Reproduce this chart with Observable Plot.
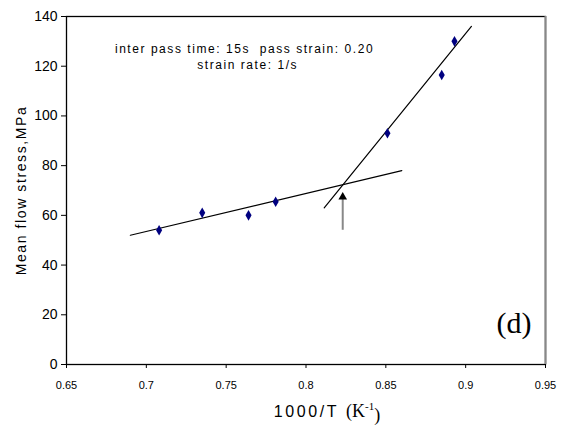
<!DOCTYPE html>
<html>
<head>
<meta charset="utf-8">
<script src="https://cdn.jsdelivr.net/npm/d3@7"></script>
<script src="https://cdn.jsdelivr.net/npm/@observablehq/plot@0.6"></script>
<style>
  html, body { margin: 0; padding: 0; background: #fff; }
</style>
</head>
<body>
<script>
// Data
const invT = [0.708, 0.735, 0.764, 0.781, 0.851, 0.885, 0.893];
const stress = [54, 61, 60, 65.5, 93, 116.5, 130];

// Fitted lines (endpoints)
const fitLowX = [0.69, 0.86];
const fitLowY = [52, 78];
const fitHighX = [0.8114, 0.9036];
const fitHighY = [63, 136];

// Arrow marking the intersection
const arrowX = [0.823];
const arrowFromY = [54];
const arrowToY = [69];

const xTicks = [0.65, 0.7, 0.75, 0.8, 0.85, 0.9, 0.95];
const yTicks = [0, 20, 40, 60, 80, 100, 120, 140];

const annotLines = ["inter pass time: 15s\u00a0\u00a0pass strain: 0.20", "strain rate: 1/s"];
const yTitle = "Mean flow stress,MPa";
const panelLabel = "(d)";

const points = invT.map((x, i) => ({x, y: stress[i]}));
const low = fitLowX.map((x, i) => ({x, y: fitLowY[i]}));
const high = fitHighX.map((x, i) => ({x, y: fitHighY[i]}));
const arrow = arrowX.map((x, i) => ({x, y1: arrowFromY[i], y2: arrowToY[i]}));

const chart = Plot.plot({
  width: 562,
  height: 425,
  marginLeft: 66,
  marginRight: 17,
  marginTop: 16,
  marginBottom: 61,
  style: {fontFamily: "'Liberation Sans', Arial, sans-serif", background: "#fff", color: "#000"},
  x: {domain: [0.65, 0.95], ticks: xTicks, tickFormat: d => String(d), tickSize: 4, tickPadding: 13, label: null},
  y: {domain: [0, 140], ticks: yTicks, tickSize: 5, tickPadding: 4, label: null},
  marks: [
    Plot.frame({stroke: "#000", strokeWidth: 1.3}),
    Plot.ruleX([0.95], {stroke: "#888", strokeWidth: 2}),
    Plot.line(low, {x: "x", y: "y", stroke: "#000", strokeWidth: 1.2}),
    Plot.line(high, {x: "x", y: "y", stroke: "#000", strokeWidth: 1.2}),
    Plot.ruleX(arrow, {x: "x", y1: "y1", y2: d => d.y2 - 2, stroke: "#888", strokeWidth: 2}),
    Plot.dot(arrow, {x: "x", y: d => d.y2 - 1.6, symbol: "triangle", r: 3.2, fill: "#000", stroke: "none"}),
    Plot.dot(points, {x: "x", y: "y", symbol: "diamond", r: 3.2, fill: "#000080", stroke: "none"}),
    Plot.text([annotLines[0]], {x: [0.7615], y: [127], text: d => d, fontSize: 12, textAnchor: "middle", lineAnchor: "middle", fill: "#000"}),
    Plot.text([annotLines[1]], {x: [0.7635], y: [120.3], text: d => d, fontSize: 12, textAnchor: "middle", lineAnchor: "middle", fill: "#000"}),
    Plot.text([panelLabel], {frameAnchor: "bottom-right", text: d => d, dx: -14, dy: -41, fontSize: 30, textAnchor: "end", lineAnchor: "middle", fill: "#000"}),
    Plot.text([yTitle], {frameAnchor: "left", text: d => d, dx: -45, rotate: -90, fontSize: 14, textAnchor: "middle", lineAnchor: "middle", fill: "#000"}),
    Plot.text(["1000/T"], {frameAnchor: "bottom", text: d => d, dx: 21, dy: 47, fontSize: 16, textAnchor: "middle", lineAnchor: "middle", fill: "#000"})
  ]
});

document.body.appendChild(chart);
const svg = d3.select(chart);

// Axis tick label styling
svg.selectAll('g[aria-label^="y-axis"] text')
  .attr("font-size", 14);
svg.selectAll('g[aria-label^="x-axis"] text')
  .attr("font-size", 11);
svg.selectAll('g[aria-label^="y-axis"] line, g[aria-label^="y-axis"] path, g[aria-label^="x-axis"] line, g[aria-label^="x-axis"] path')
  .attr("stroke", "#000");

// Text styling: letter-spaced labels
svg.selectAll('g[aria-label="text"] text').each(function(d) {
  const t = d3.select(this);
  const s = t.text();
  if (s === annotLines[0] || s === annotLines[1]) {
    t.attr("letter-spacing", 1.55);
  } else if (s === yTitle) {
    t.attr("letter-spacing", 1.6);
  } else if (s === panelLabel) {
    t.attr("font-family", "'Liberation Serif', 'Times New Roman', serif");
  } else if (s === "1000/T") {
    t.text(null);
    t.append("tspan").attr("letter-spacing", 2.6).text("1000/T ");
    const k = t.append("tspan").attr("font-family", "'Liberation Serif', 'Times New Roman', serif").attr("font-size", 18);
    k.append("tspan").text("(K");
    k.append("tspan").attr("font-size", 11).attr("dy", "-0.6em").text("-1");
    k.append("tspan").attr("dy", "0.6em").text(")");
  }
});
</script>
</body>
</html>
